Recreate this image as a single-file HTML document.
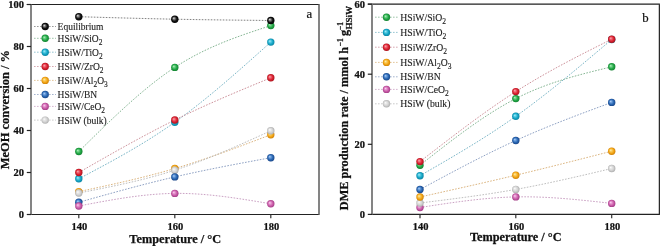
<!DOCTYPE html>
<html><head><meta charset="utf-8"><style>
html,body{margin:0;padding:0;background:#fff;}
body{width:660px;height:246px;overflow:hidden;}
svg{display:block;will-change:transform;}
text{font-family:"Liberation Serif",serif;fill:#111;}
.lg{fill:#222;stroke:#222;stroke-width:0.12px;}
.bd{stroke:#111;stroke-width:0.25px;}
.ab{stroke:#111;stroke-width:0.2px;}
</style></head><body>
<svg width="660" height="246" viewBox="0 0 660 246" xmlns="http://www.w3.org/2000/svg">
<defs>
<radialGradient id="gk" cx="0.5" cy="0.5" r="0.55" fx="0.35" fy="0.35"><stop offset="0" stop-color="#ececec"/><stop offset="0.25" stop-color="#7f7f7f"/><stop offset="0.6" stop-color="#121212"/><stop offset="1" stop-color="#000000"/></radialGradient>
<radialGradient id="gg" cx="0.5" cy="0.5" r="0.55" fx="0.35" fy="0.35"><stop offset="0" stop-color="#b8f8c4"/><stop offset="0.25" stop-color="#6dd085"/><stop offset="0.6" stop-color="#22a846"/><stop offset="1" stop-color="#107a2c"/></radialGradient>
<radialGradient id="gc" cx="0.5" cy="0.5" r="0.55" fx="0.35" fy="0.35"><stop offset="0" stop-color="#aaf4ff"/><stop offset="0.25" stop-color="#60cee4"/><stop offset="0.6" stop-color="#16a8c8"/><stop offset="1" stop-color="#0a7c9a"/></radialGradient>
<radialGradient id="gr" cx="0.5" cy="0.5" r="0.55" fx="0.35" fy="0.35"><stop offset="0" stop-color="#ffb0b8"/><stop offset="0.25" stop-color="#ee6975"/><stop offset="0.6" stop-color="#dc2232"/><stop offset="1" stop-color="#a01018"/></radialGradient>
<radialGradient id="go" cx="0.5" cy="0.5" r="0.55" fx="0.35" fy="0.35"><stop offset="0" stop-color="#fff4b0"/><stop offset="0.25" stop-color="#face64"/><stop offset="0.6" stop-color="#f4a818"/><stop offset="1" stop-color="#c87800"/></radialGradient>
<radialGradient id="gb" cx="0.5" cy="0.5" r="0.55" fx="0.35" fy="0.35"><stop offset="0" stop-color="#b0d4ff"/><stop offset="0.25" stop-color="#6d9eda"/><stop offset="0.6" stop-color="#2a68b4"/><stop offset="1" stop-color="#163f80"/></radialGradient>
<radialGradient id="gm" cx="0.5" cy="0.5" r="0.55" fx="0.35" fy="0.35"><stop offset="0" stop-color="#ffd4f6"/><stop offset="0.25" stop-color="#e699d0"/><stop offset="0.6" stop-color="#cc5eaa"/><stop offset="1" stop-color="#9a347e"/></radialGradient>
<radialGradient id="gy" cx="0.5" cy="0.5" r="0.55" fx="0.35" fy="0.35"><stop offset="0" stop-color="#ffffff"/><stop offset="0.25" stop-color="#e8e8e8"/><stop offset="0.6" stop-color="#d2d2d2"/><stop offset="1" stop-color="#a6a6a6"/></radialGradient>
</defs>
<path d="M78.80,16.70 C110.80,17.63 142.80,18.57 174.80,19.20 C206.80,19.83 238.80,20.17 270.80,20.50" fill="none" stroke="#6a6a6a" stroke-width="0.85" stroke-dasharray="1.6 1.4"/>
<path d="M78.80,151.50 C110.80,119.94 142.80,88.38 174.80,67.40 C206.80,46.42 238.80,36.01 270.80,25.60" fill="none" stroke="#6fa880" stroke-width="0.85" stroke-dasharray="1.6 1.4"/>
<path d="M78.80,178.80 C110.80,161.89 142.80,144.98 174.80,122.20 C206.80,99.42 238.80,70.76 270.80,42.10" fill="none" stroke="#62a8bc" stroke-width="0.85" stroke-dasharray="1.6 1.4"/>
<path d="M78.80,172.50 C110.80,154.14 142.80,135.78 174.80,120.00 C206.80,104.22 238.80,91.01 270.80,77.80" fill="none" stroke="#c47f8a" stroke-width="0.85" stroke-dasharray="1.6 1.4"/>
<path d="M78.80,191.60 C110.80,184.79 142.80,177.98 174.80,168.50 C206.80,159.02 238.80,146.86 270.80,134.70" fill="none" stroke="#d4a86a" stroke-width="0.85" stroke-dasharray="1.6 1.4"/>
<path d="M78.80,202.30 C110.80,193.32 142.80,184.33 174.80,176.90 C206.80,169.47 238.80,163.58 270.80,157.70" fill="none" stroke="#7a90b8" stroke-width="0.85" stroke-dasharray="1.6 1.4"/>
<path d="M78.80,206.00 C110.80,199.88 142.80,193.77 174.80,193.40 C206.80,193.03 238.80,198.42 270.80,203.80" fill="none" stroke="#c090b8" stroke-width="0.85" stroke-dasharray="1.6 1.4"/>
<path d="M78.80,193.00 C110.80,186.78 142.80,180.57 174.80,170.20 C206.80,159.83 238.80,145.32 270.80,130.80" fill="none" stroke="#b2b2b2" stroke-width="0.85" stroke-dasharray="1.6 1.4"/>
<path d="M420.00,165.20 C451.93,140.10 483.87,115.00 515.80,98.60 C547.77,82.19 579.73,74.49 611.70,66.80" fill="none" stroke="#6fa880" stroke-width="0.85" stroke-dasharray="1.6 1.4"/>
<path d="M420.00,175.70 C451.93,157.34 483.87,138.99 515.80,116.30 C547.77,93.59 579.73,66.55 611.70,39.50" fill="none" stroke="#62a8bc" stroke-width="0.85" stroke-dasharray="1.6 1.4"/>
<path d="M420.00,161.60 C451.93,136.80 483.87,111.99 515.80,91.60 C547.77,71.19 579.73,55.19 611.70,39.20" fill="none" stroke="#c47f8a" stroke-width="0.85" stroke-dasharray="1.6 1.4"/>
<path d="M420.00,197.00 C451.93,189.91 483.87,182.83 515.80,175.20 C547.77,167.56 579.73,159.38 611.70,151.20" fill="none" stroke="#d4a86a" stroke-width="0.85" stroke-dasharray="1.6 1.4"/>
<path d="M420.00,189.50 C451.93,172.26 483.87,155.01 515.80,140.50 C547.77,125.97 579.73,114.19 611.70,102.40" fill="none" stroke="#7a90b8" stroke-width="0.85" stroke-dasharray="1.6 1.4"/>
<path d="M420.00,207.50 C451.93,202.54 483.87,197.59 515.80,196.90 C547.77,196.21 579.73,199.81 611.70,203.40" fill="none" stroke="#c090b8" stroke-width="0.85" stroke-dasharray="1.6 1.4"/>
<path d="M420.00,203.00 C451.93,199.07 483.87,195.15 515.80,189.40 C547.77,183.65 579.73,176.07 611.70,168.50" fill="none" stroke="#b2b2b2" stroke-width="0.85" stroke-dasharray="1.6 1.4"/>
<circle cx="78.80" cy="151.50" r="3.7" fill="url(#gg)"/>
<circle cx="174.80" cy="67.40" r="3.7" fill="url(#gg)"/>
<circle cx="270.80" cy="25.60" r="3.7" fill="url(#gg)"/>
<circle cx="78.80" cy="178.80" r="3.7" fill="url(#gc)"/>
<circle cx="174.80" cy="122.20" r="3.7" fill="url(#gc)"/>
<circle cx="270.80" cy="42.10" r="3.7" fill="url(#gc)"/>
<circle cx="78.80" cy="172.50" r="3.7" fill="url(#gr)"/>
<circle cx="174.80" cy="120.00" r="3.7" fill="url(#gr)"/>
<circle cx="270.80" cy="77.80" r="3.7" fill="url(#gr)"/>
<circle cx="78.80" cy="191.60" r="3.7" fill="url(#go)"/>
<circle cx="174.80" cy="168.50" r="3.7" fill="url(#go)"/>
<circle cx="270.80" cy="134.70" r="3.7" fill="url(#go)"/>
<circle cx="78.80" cy="193.00" r="3.7" fill="url(#gy)"/>
<circle cx="174.80" cy="170.20" r="3.7" fill="url(#gy)"/>
<circle cx="270.80" cy="130.80" r="3.7" fill="url(#gy)"/>
<circle cx="78.80" cy="202.30" r="3.7" fill="url(#gb)"/>
<circle cx="174.80" cy="176.90" r="3.7" fill="url(#gb)"/>
<circle cx="270.80" cy="157.70" r="3.7" fill="url(#gb)"/>
<circle cx="78.80" cy="206.00" r="3.7" fill="url(#gm)"/>
<circle cx="174.80" cy="193.40" r="3.7" fill="url(#gm)"/>
<circle cx="270.80" cy="203.80" r="3.7" fill="url(#gm)"/>
<circle cx="78.80" cy="16.70" r="3.7" fill="url(#gk)"/>
<circle cx="174.80" cy="19.20" r="3.7" fill="url(#gk)"/>
<circle cx="270.80" cy="20.50" r="3.7" fill="url(#gk)"/>
<circle cx="420.00" cy="207.50" r="3.7" fill="url(#gm)"/>
<circle cx="515.80" cy="196.90" r="3.7" fill="url(#gm)"/>
<circle cx="611.70" cy="203.40" r="3.7" fill="url(#gm)"/>
<circle cx="420.00" cy="203.00" r="3.7" fill="url(#gy)"/>
<circle cx="515.80" cy="189.40" r="3.7" fill="url(#gy)"/>
<circle cx="611.70" cy="168.50" r="3.7" fill="url(#gy)"/>
<circle cx="420.00" cy="165.20" r="3.7" fill="url(#gg)"/>
<circle cx="515.80" cy="98.60" r="3.7" fill="url(#gg)"/>
<circle cx="611.70" cy="66.80" r="3.7" fill="url(#gg)"/>
<circle cx="420.00" cy="175.70" r="3.7" fill="url(#gc)"/>
<circle cx="515.80" cy="116.30" r="3.7" fill="url(#gc)"/>
<circle cx="611.70" cy="39.50" r="3.7" fill="url(#gc)"/>
<circle cx="420.00" cy="161.60" r="3.7" fill="url(#gr)"/>
<circle cx="515.80" cy="91.60" r="3.7" fill="url(#gr)"/>
<circle cx="611.70" cy="39.20" r="3.7" fill="url(#gr)"/>
<circle cx="420.00" cy="197.00" r="3.7" fill="url(#go)"/>
<circle cx="515.80" cy="175.20" r="3.7" fill="url(#go)"/>
<circle cx="611.70" cy="151.20" r="3.7" fill="url(#go)"/>
<circle cx="420.00" cy="189.50" r="3.7" fill="url(#gb)"/>
<circle cx="515.80" cy="140.50" r="3.7" fill="url(#gb)"/>
<circle cx="611.70" cy="102.40" r="3.7" fill="url(#gb)"/>
<path d="M34,26.5 H56" fill="none" stroke="#6a6a6a" stroke-width="0.9" stroke-opacity="0.75" stroke-dasharray="1.6 1.4"/>
<circle cx="45.20" cy="26.50" r="3.7" fill="url(#gk)"/>
<text transform="translate(57.60,30.10) scale(1,1.155)" class="lg" style="font-size:9.5px;font-weight:normal" text-anchor="start">Equilibrium</text>
<path d="M34,38.3 H56" fill="none" stroke="#6fa880" stroke-width="0.9" stroke-opacity="0.75" stroke-dasharray="1.6 1.4"/>
<circle cx="45.20" cy="38.30" r="3.7" fill="url(#gg)"/>
<text transform="translate(57.60,41.60) scale(1,1.155)" class="lg" style="font-size:9.5px;font-weight:normal" text-anchor="start">HSiW/SiO<tspan dy="2.66" style="font-size:7.41px">2</tspan></text>
<path d="M34,52.2 H56" fill="none" stroke="#62a8bc" stroke-width="0.9" stroke-opacity="0.75" stroke-dasharray="1.6 1.4"/>
<circle cx="45.20" cy="52.20" r="3.7" fill="url(#gc)"/>
<text transform="translate(57.60,55.60) scale(1,1.155)" class="lg" style="font-size:9.5px;font-weight:normal" text-anchor="start">HSiW/TiO<tspan dy="2.66" style="font-size:7.41px">2</tspan></text>
<path d="M34,66.5 H56" fill="none" stroke="#c47f8a" stroke-width="0.9" stroke-opacity="0.75" stroke-dasharray="1.6 1.4"/>
<circle cx="45.20" cy="66.50" r="3.7" fill="url(#gr)"/>
<text transform="translate(57.60,70.10) scale(1,1.155)" class="lg" style="font-size:9.5px;font-weight:normal" text-anchor="start">HSiW/ZrO<tspan dy="2.66" style="font-size:7.41px">2</tspan></text>
<path d="M34,80.4 H56" fill="none" stroke="#d4a86a" stroke-width="0.9" stroke-opacity="0.75" stroke-dasharray="1.6 1.4"/>
<circle cx="45.20" cy="80.40" r="3.7" fill="url(#go)"/>
<text transform="translate(57.60,84.00) scale(1,1.155)" class="lg" style="font-size:9.5px;font-weight:normal" text-anchor="start">HSiW/Al<tspan dy="2.66" style="font-size:7.41px">2</tspan><tspan dy="-2.66">O</tspan><tspan dy="2.66" style="font-size:7.41px">3</tspan></text>
<path d="M34,94.5 H56" fill="none" stroke="#7a90b8" stroke-width="0.9" stroke-opacity="0.75" stroke-dasharray="1.6 1.4"/>
<circle cx="45.20" cy="94.50" r="3.7" fill="url(#gb)"/>
<text transform="translate(57.60,97.90) scale(1,1.155)" class="lg" style="font-size:9.5px;font-weight:normal" text-anchor="start">HSiW/BN</text>
<path d="M34,106.4 H56" fill="none" stroke="#c090b8" stroke-width="0.9" stroke-opacity="0.75" stroke-dasharray="1.6 1.4"/>
<circle cx="45.20" cy="106.40" r="3.7" fill="url(#gm)"/>
<text transform="translate(57.60,110.00) scale(1,1.155)" class="lg" style="font-size:9.5px;font-weight:normal" text-anchor="start">HSiW/CeO<tspan dy="2.66" style="font-size:7.41px">2</tspan></text>
<path d="M34,120.1 H56" fill="none" stroke="#b2b2b2" stroke-width="0.9" stroke-opacity="0.75" stroke-dasharray="1.6 1.4"/>
<circle cx="45.20" cy="120.10" r="3.7" fill="url(#gy)"/>
<text transform="translate(57.60,124.10) scale(1,1.155)" class="lg" style="font-size:9.5px;font-weight:normal" text-anchor="start">HSiW (bulk)</text>
<path d="M375,17.2 H398" fill="none" stroke="#6fa880" stroke-width="0.9" stroke-opacity="0.75" stroke-dasharray="1.6 1.4"/>
<circle cx="386.50" cy="17.20" r="3.7" fill="url(#gg)"/>
<text transform="translate(400.30,21.20) scale(1,1.08)" class="lg" style="font-size:9.7px;font-weight:normal" text-anchor="start">HSiW/SiO<tspan dy="2.72" style="font-size:7.57px">2</tspan></text>
<path d="M375,32.4 H398" fill="none" stroke="#62a8bc" stroke-width="0.9" stroke-opacity="0.75" stroke-dasharray="1.6 1.4"/>
<circle cx="386.50" cy="32.40" r="3.7" fill="url(#gc)"/>
<text transform="translate(400.30,36.20) scale(1,1.08)" class="lg" style="font-size:9.7px;font-weight:normal" text-anchor="start">HSiW/TiO<tspan dy="2.72" style="font-size:7.57px">2</tspan></text>
<path d="M375,47.2 H398" fill="none" stroke="#c47f8a" stroke-width="0.9" stroke-opacity="0.75" stroke-dasharray="1.6 1.4"/>
<circle cx="386.50" cy="47.20" r="3.7" fill="url(#gr)"/>
<text transform="translate(400.30,51.30) scale(1,1.08)" class="lg" style="font-size:9.7px;font-weight:normal" text-anchor="start">HSiW/ZrO<tspan dy="2.72" style="font-size:7.57px">2</tspan></text>
<path d="M375,62.4 H398" fill="none" stroke="#d4a86a" stroke-width="0.9" stroke-opacity="0.75" stroke-dasharray="1.6 1.4"/>
<circle cx="386.50" cy="62.40" r="3.7" fill="url(#go)"/>
<text transform="translate(400.30,66.00) scale(1,1.08)" class="lg" style="font-size:9.7px;font-weight:normal" text-anchor="start">HSiW/Al<tspan dy="2.72" style="font-size:7.57px">2</tspan><tspan dy="-2.72">O</tspan><tspan dy="2.72" style="font-size:7.57px">3</tspan></text>
<path d="M375,76.8 H398" fill="none" stroke="#7a90b8" stroke-width="0.9" stroke-opacity="0.75" stroke-dasharray="1.6 1.4"/>
<circle cx="386.50" cy="76.80" r="3.7" fill="url(#gb)"/>
<text transform="translate(400.30,79.90) scale(1,1.08)" class="lg" style="font-size:9.7px;font-weight:normal" text-anchor="start">HSiW/BN</text>
<path d="M375,89.4 H398" fill="none" stroke="#c090b8" stroke-width="0.9" stroke-opacity="0.75" stroke-dasharray="1.6 1.4"/>
<circle cx="386.50" cy="89.40" r="3.7" fill="url(#gm)"/>
<text transform="translate(400.30,92.60) scale(1,1.08)" class="lg" style="font-size:9.7px;font-weight:normal" text-anchor="start">HSiW/CeO<tspan dy="2.72" style="font-size:7.57px">2</tspan></text>
<path d="M375,103.8 H398" fill="none" stroke="#b2b2b2" stroke-width="0.9" stroke-opacity="0.75" stroke-dasharray="1.6 1.4"/>
<circle cx="386.50" cy="103.80" r="3.7" fill="url(#gy)"/>
<text transform="translate(400.30,107.20) scale(1,1.08)" class="lg" style="font-size:9.7px;font-weight:normal" text-anchor="start">HSiW (bulk)</text>
<path d="M26.8,4.5 H319.5 M30,214.5 H319.5" stroke="#222" stroke-width="1.2" fill="none"/>
<path d="M31,4.5 V214.5" stroke="#777" stroke-width="1.8" fill="none"/>
<path d="M319,4.5 V214.5" stroke="#777" stroke-width="1.8" fill="none"/>
<path d="M26.8,4.5 H31" stroke="#222" stroke-width="1.2"/>
<text transform="translate(24.00,7.80) scale(1,0.98)" class="bd" style="font-size:10.5px;font-weight:bold" text-anchor="end">100</text>
<path d="M26.8,46.5 H31" stroke="#222" stroke-width="1.2"/>
<text transform="translate(24.00,49.80) scale(1,0.98)" class="bd" style="font-size:10.5px;font-weight:bold" text-anchor="end">80</text>
<path d="M26.8,88.5 H31" stroke="#222" stroke-width="1.2"/>
<text transform="translate(24.00,91.80) scale(1,0.98)" class="bd" style="font-size:10.5px;font-weight:bold" text-anchor="end">60</text>
<path d="M26.8,130.5 H31" stroke="#222" stroke-width="1.2"/>
<text transform="translate(24.00,133.80) scale(1,0.98)" class="bd" style="font-size:10.5px;font-weight:bold" text-anchor="end">40</text>
<path d="M26.8,172.5 H31" stroke="#222" stroke-width="1.2"/>
<text transform="translate(24.00,175.80) scale(1,0.98)" class="bd" style="font-size:10.5px;font-weight:bold" text-anchor="end">20</text>
<path d="M26.8,214.5 H31" stroke="#222" stroke-width="1.2"/>
<text transform="translate(24.00,217.80) scale(1,0.98)" class="bd" style="font-size:10.5px;font-weight:bold" text-anchor="end">0</text>
<path d="M78.8,214.5 V218.3" stroke="#333" stroke-width="1.2"/>
<text transform="translate(79.40,230.10) scale(1,0.98)" class="bd" style="font-size:10.5px;font-weight:bold" text-anchor="middle">140</text>
<path d="M174.8,214.5 V218.3" stroke="#333" stroke-width="1.2"/>
<text transform="translate(175.40,230.10) scale(1,0.98)" class="bd" style="font-size:10.5px;font-weight:bold" text-anchor="middle">160</text>
<path d="M270.8,214.5 V218.3" stroke="#333" stroke-width="1.2"/>
<text transform="translate(271.40,230.10) scale(1,0.98)" class="bd" style="font-size:10.5px;font-weight:bold" text-anchor="middle">180</text>
<path d="M367.8,4.2 H659.9 M371,214.4 H659.9" stroke="#222" stroke-width="1.2" fill="none"/>
<path d="M372,4.2 V214.4" stroke="#777" stroke-width="1.8" fill="none"/>
<path d="M659.4,4.2 V214.4" stroke="#2a2a2a" stroke-width="1.3" fill="none"/>
<path d="M367.8,4.2 H372" stroke="#222" stroke-width="1.2"/>
<text transform="translate(365.00,7.50) scale(1,0.98)" class="bd" style="font-size:10.5px;font-weight:bold" text-anchor="end">60</text>
<path d="M367.8,74.2 H372" stroke="#222" stroke-width="1.2"/>
<text transform="translate(365.00,77.50) scale(1,0.98)" class="bd" style="font-size:10.5px;font-weight:bold" text-anchor="end">40</text>
<path d="M367.8,144.3 H372" stroke="#222" stroke-width="1.2"/>
<text transform="translate(365.00,147.60) scale(1,0.98)" class="bd" style="font-size:10.5px;font-weight:bold" text-anchor="end">20</text>
<path d="M367.8,214.4 H372" stroke="#222" stroke-width="1.2"/>
<text transform="translate(365.00,217.70) scale(1,0.98)" class="bd" style="font-size:10.5px;font-weight:bold" text-anchor="end">0</text>
<path d="M420.0,214.4 V218.20000000000002" stroke="#333" stroke-width="1.2"/>
<text transform="translate(420.60,230.10) scale(1,0.98)" class="bd" style="font-size:10.5px;font-weight:bold" text-anchor="middle">140</text>
<path d="M515.8,214.4 V218.20000000000002" stroke="#333" stroke-width="1.2"/>
<text transform="translate(516.40,230.10) scale(1,0.98)" class="bd" style="font-size:10.5px;font-weight:bold" text-anchor="middle">160</text>
<path d="M611.7,214.4 V218.20000000000002" stroke="#333" stroke-width="1.2"/>
<text transform="translate(612.30,230.10) scale(1,0.98)" class="bd" style="font-size:10.5px;font-weight:bold" text-anchor="middle">180</text>
<text transform="translate(175.20,243.30)" class="bd" style="font-size:12.3px;font-weight:bold" text-anchor="middle">Temperature / °C</text>
<text transform="translate(515.80,241.00) scale(1,1.03)" class="bd" style="font-size:12.3px;font-weight:bold" text-anchor="middle">Temperature / °C</text>
<text transform="translate(9.40,109.60) rotate(-90) scale(1,1.08)" class="bd" style="font-size:12.45px;font-weight:bold" text-anchor="middle">MeOH conversion / %</text>
<g class="bd" transform="translate(348.1,210.2) rotate(-90) scale(1,1.07)">
<text x="0" y="0" style="font-size:12.3px;font-weight:bold">DME production rate / mmol h</text>
<text x="163.9" y="-5.0" style="font-size:7.5px;font-weight:bold">−1</text>
<text x="174.3" y="-0.5" style="font-size:12.3px;font-weight:bold">g</text>
<text x="180.3" y="-5.0" style="font-size:7.5px;font-weight:bold">−1</text>
<text transform="translate(180.6,4.0) scale(1,0.907)" style="font-size:9.1px;font-weight:bold">HSiW</text>
</g>
<text transform="translate(306.40,18.00)" class="ab" style="font-size:12.8px;font-weight:normal" text-anchor="start">a</text>
<text transform="translate(642.20,21.60)" class="ab" style="font-size:12.8px;font-weight:normal" text-anchor="start">b</text>
</svg>
</body></html>
